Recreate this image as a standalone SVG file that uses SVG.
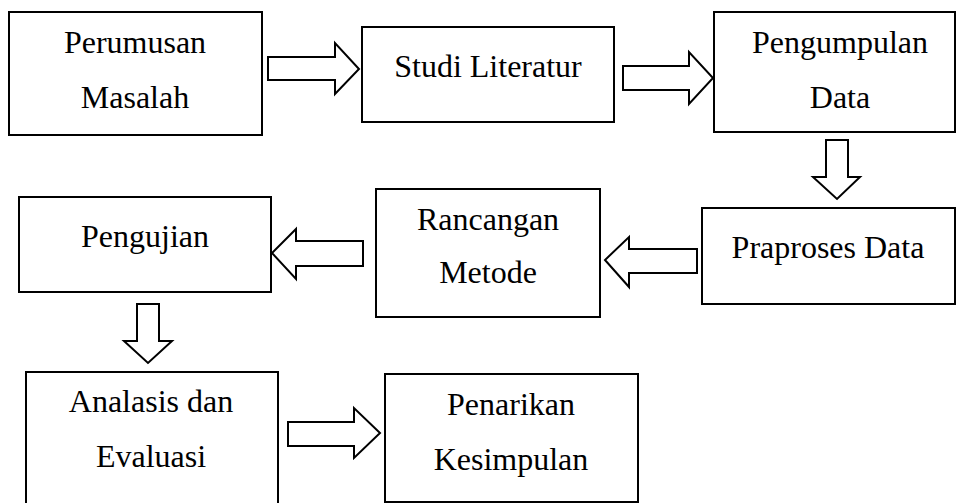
<svg xmlns="http://www.w3.org/2000/svg" width="957" height="503" viewBox="0 0 957 503">
<style>
.box{fill:#fff;stroke:#000;stroke-width:2}
.arr{fill:#fff;stroke:#000;stroke-width:2;stroke-linejoin:miter}
.t{font-family:'Liberation Serif','DejaVu Serif',serif;font-size:32px;fill:#000;text-anchor:middle}
</style>
<rect width="957" height="503" fill="#fff"/>
<g id="connectors">
<polygon class="arr" points="268,57 335,57 335,43 359,69 335,94 335,80 268,80"/>
<polygon class="arr" points="623,66 689,66 689,52 713,78 689,104 689,90 623,90"/>
<polygon class="arr" points="826,140 848,140 848,177 860,177 837,199 813,177 826,177"/>
<polygon class="arr" points="697,249 629,249 629,237 605,260 629,287 629,273 697,273"/>
<polygon class="arr" points="363,241 296,241 296,229 272,253 296,279 296,266 363,266"/>
<polygon class="arr" points="137,304 159,304 159,341 172,341 148,363 124,341 137,341"/>
<polygon class="arr" points="288,422 354,422 354,408 380,433 354,458 354,446 288,446"/>
</g>
<g id="perumusan-masalah">
<rect class="box" x="9" y="12" width="253" height="123"/>
<text class="t" x="135" y="53" font-family="Liberation Serif">Perumusan</text>
<text class="t" x="135" y="108" font-family="Liberation Serif">Masalah</text>
</g>
<g id="studi-literatur">
<rect class="box" x="362" y="27" width="252" height="95"/>
<text class="t" x="488" y="77">Studi Literatur</text>
</g>
<g id="pengumpulan-data">
<rect class="box" x="714" y="12" width="241" height="120"/>
<text class="t" x="840" y="53">Pengumpulan</text>
<text class="t" x="840" y="108">Data</text>
</g>
<g id="praproses-data">
<rect class="box" x="702" y="208" width="253" height="96"/>
<text class="t" x="828" y="258">Praproses Data</text>
</g>
<g id="rancangan-metode">
<rect class="box" x="376" y="189" width="224" height="128"/>
<text class="t" x="488" y="230">Rancangan</text>
<text class="t" x="488" y="283">Metode</text>
</g>
<g id="pengujian">
<rect class="box" x="19" y="197" width="252" height="95"/>
<text class="t" x="145" y="247">Pengujian</text>
</g>
<g id="analasis-evaluasi">
<rect class="box" x="26" y="372" width="252" height="140"/>
<text class="t" x="151" y="412">Analasis dan</text>
<text class="t" x="151" y="467">Evaluasi</text>
</g>
<g id="penarikan-kesimpulan">
<rect class="box" x="385" y="374" width="253" height="128"/>
<text class="t" x="511" y="415">Penarikan</text>
<text class="t" x="511" y="470">Kesimpulan</text>
</g>
</svg>
